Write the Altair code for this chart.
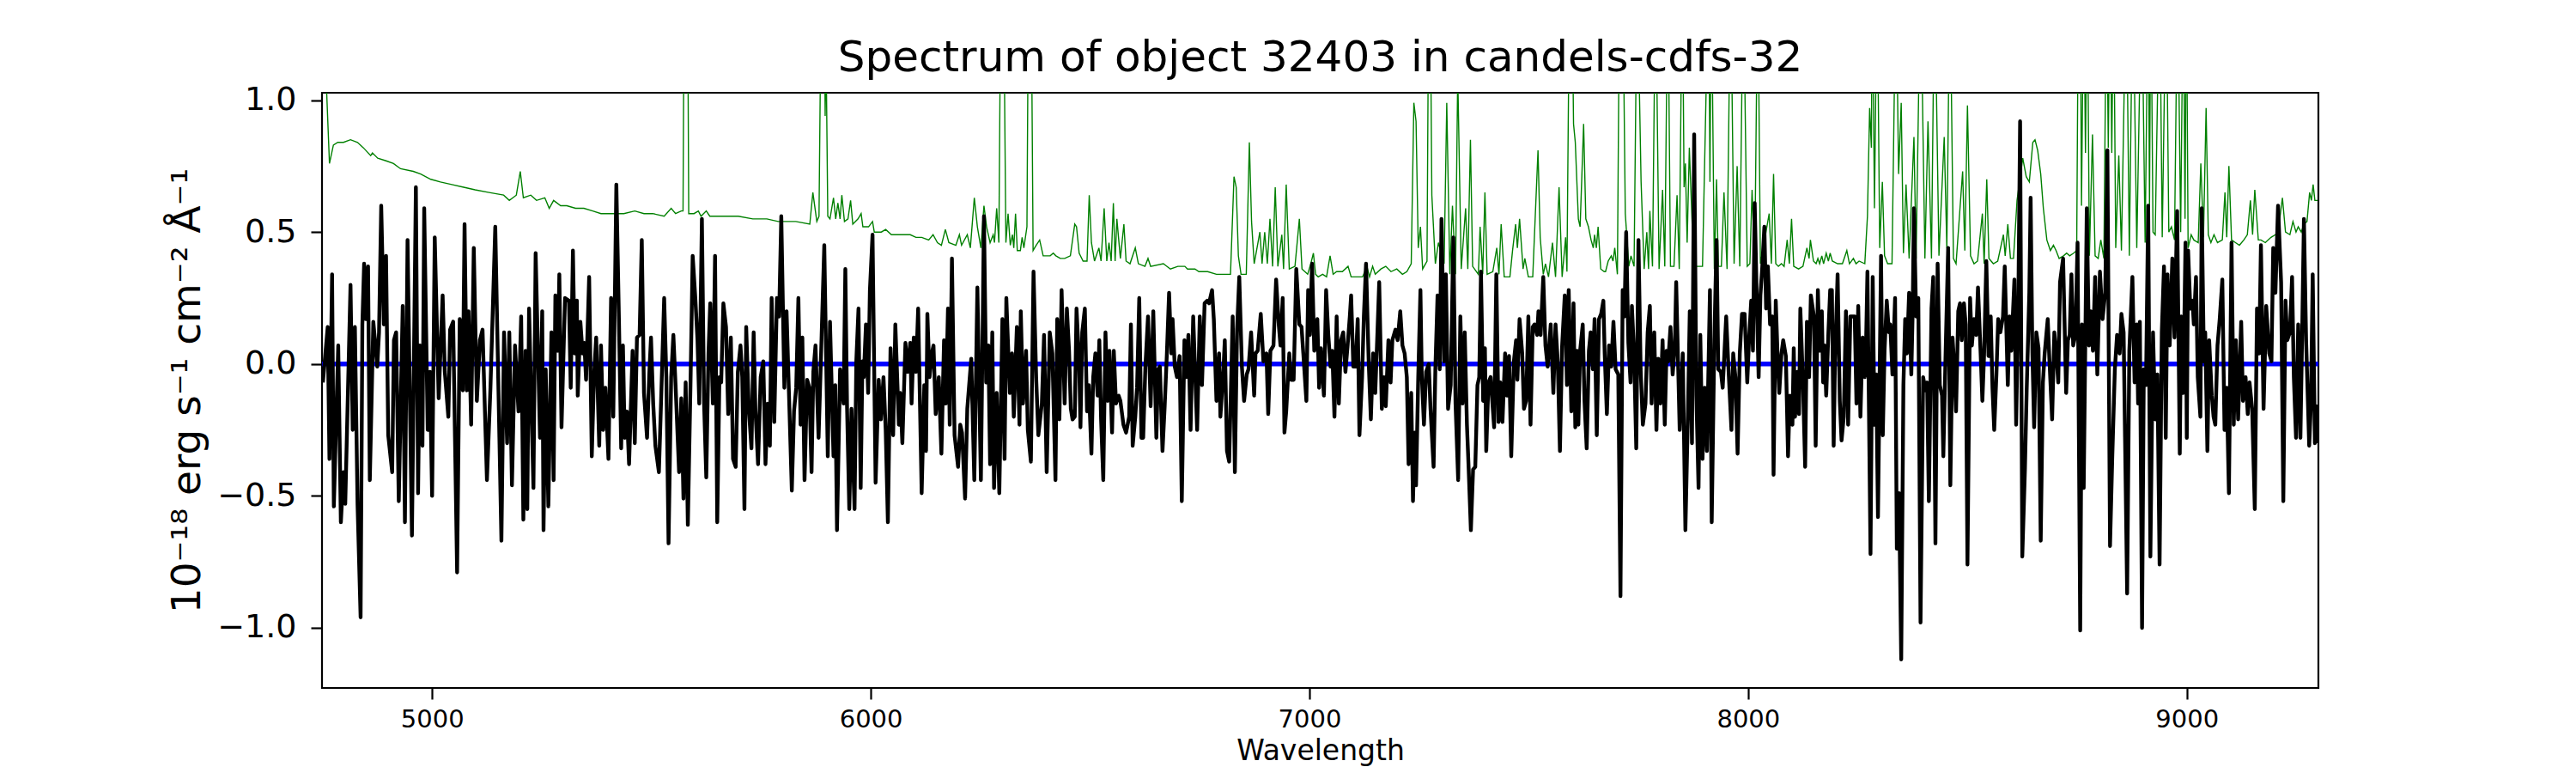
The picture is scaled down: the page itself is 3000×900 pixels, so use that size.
import altair as alt
import pandas as pd

# ---------------- data ----------------
# black: object flux, (wavelength [A], flux [1e-18 erg/s/cm2/A])
black_a = [(4751,-0.07),(4762,0.14),(4766,-0.36),(4772,0.34),(4776,-0.54),(4786,0.07),(4792,-0.60),(4798,-0.41),(4802,-0.53),(4814,0.30),(4819,-0.25),(4824,0.14),(4830,-0.53),(4837,-0.96),(4841,0.15),(4845,0.38),(4849,0.17),(4854,0.37),(4858,-0.44),(4866,0.16),(4875,-0.01),(4879,0.12),(4884,0.60),(4890,0.15),(4895,0.41),(4900,-0.27),(4909,-0.41),(4913,0.09),(4918,0.12),(4924,-0.52),(4933,0.22),(4938,-0.60),(4944,0.47),(4954,-0.65),(4963,0.67),(4968,-0.49),(4972,0.07),(4978,-0.31),(4982,0.59),(4990,-0.25),(4995,-0.03),(5000,-0.50),(5006,0.48),(5015,-0.13),(5024,0.26),(5029,-0.03),(5037,-0.20),(5041,0.13),(5048,0.16),(5057,-0.79),(5063,0.17),(5070,-0.10),(5074,0.53),(5079,-0.10),(5083,0.20),(5089,-0.23),(5095,0.44),(5102,-0.14),(5109,0.09),(5115,0.13),(5125,-0.44),(5133,-0.09),(5144,0.52),(5150,0.01),(5158,-0.67),(5164,0.12),(5171,-0.30),(5176,0.12),(5182,-0.46),(5189,0.07),(5197,-0.18),(5203,0.18),(5208,-0.59),(5213,0.05),(5217,-0.55),(5221,0.21),(5231,-0.47),(5236,0.42),(5246,-0.28),(5251,0.20),(5254,-0.63),(5259,-0.02),(5265,-0.54),(5272,0.12),(5277,-0.44),(5281,0.26),(5287,0.05),(5290,0.34),(5295,-0.24),(5303,0.25)]
black_b = [(5312,0.24),(5316,-0.09),(5321,0.43),(5325,0.04),(5330,0.24),(5332,-0.12),(5338,0.16),(5343,0.04),(5347,0.08),(5351,-0.06),(5358,0.33),(5364,-0.35),(5369,-0.05),(5374,0.10),(5381,-0.31),(5385,0.07),(5390,-0.25),(5395,-0.09),(5402,-0.36),(5408,0.25),(5413,-0.20),(5420,0.68),(5426,0.16),(5431,-0.32),(5435,0.07),(5439,-0.28),(5444,-0.18),(5449,-0.38),(5457,0.05),(5462,-0.30),(5467,0.10),(5473,0.11),(5478,0.47),(5483,-0.11),(5490,-0.28),(5495,-0.04),(5499,0.10),(5504,-0.15),(5509,-0.31),(5517,-0.41),(5522,-0.14),(5529,0.25),(5534,-0.05),(5539,-0.68),(5545,-0.05),(5550,0.11),(5555,-0.08),(5563,-0.41),(5568,-0.13),(5573,-0.51),(5578,-0.07),(5583,-0.61),(5589,-0.08),(5594,0.41),(5600,0.25),(5605,0.09),(5609,-0.15),(5615,0.55),(5620,-0.15),(5625,-0.43),(5630,0.04),(5634,0.23),(5640,-0.15),(5645,0.41),(5650,-0.60),(5655,-0.05),(5659,-0.07),(5664,0.23),(5670,0.14),(5675,-0.19),(5681,0.10),(5686,-0.36),(5692,-0.39),(5697,-0.03),(5703,0.07),(5707,-0.05),(5712,-0.55),(5716,0.14),(5722,-0.17),(5728,-0.32),(5733,0.12),(5737,-0.17),(5743,-0.38),(5749,-0.05),(5755,0.01),(5760,-0.38),(5765,-0.15),(5770,-0.31),(5774,0.25),(5780,-0.22),(5786,0.25),(5791,0.18),(5796,0.56),(5803,-0.09),(5808,0.20),(5814,-0.14),(5820,-0.48),(5825,-0.18),(5830,-0.09),(5835,0.25),(5840,-0.23),(5844,0.10),(5849,-0.44),(5855,-0.06),(5860,-0.09),(5865,-0.41),(5869,-0.03),(5874,0.07)]
black_c = [(5881,-0.28),(5888,0.11),(5894,0.45),(5902,-0.35),(5907,0.16),(5915,-0.35),(5919,-0.08),(5923,-0.63),(5930,-0.02),(5938,-0.15),(5942,0.36),(5946,-0.17),(5951,-0.55),(5956,-0.17),(5963,-0.55),(5967,0.01),(5972,0.21),(5977,-0.47),(5981,0.01),(5984,-0.05),(5989,0.15),(5994,-0.11),(5998,0.28),(6004,0.49),(6011,-0.45),(6018,-0.06),(6023,-0.21),(6029,-0.05),(6034,-0.25),(6039,-0.60),(6045,0.06),(6051,-0.27),(6056,0.15),(6064,-0.23),(6067,-0.11),(6072,-0.30),(6079,0.08),(6084,-0.03),(6090,0.08),(6093,-0.15),(6098,0.10),(6103,-0.03),(6108,0.21),(6116,-0.49),(6122,-0.08),(6126,-0.33),(6129,0.19),(6134,-0.05),(6139,0.04),(6143,0.07),(6148,-0.19),(6155,-0.05),(6161,-0.34),(6167,0.09),(6171,-0.15),(6176,0.21),(6180,-0.23),(6185,0.40),(6191,-0.27),(6199,-0.39),(6204,-0.23),(6208,-0.26),(6215,-0.51),(6220,-0.17),(6229,0.02),(6236,-0.44),(6243,0.29),(6251,-0.44),(6258,0.56),(6263,-0.07),(6268,0.07),(6272,-0.38),(6277,0.12),(6281,-0.47),(6287,-0.11),(6293,-0.49),(6300,0.17),(6305,-0.36),(6309,0.25),(6317,-0.11),(6322,0.04),(6326,-0.20),(6333,0.14),(6339,-0.23),(6342,0.20),(6347,-0.15),(6354,0.05),(6358,-0.25),(6365,-0.37),(6371,0.35),(6377,-0.05),(6382,-0.27),(6390,-0.15),(6395,0.11),(6401,-0.41),(6408,0.12),(6414,0.04),(6421,-0.44),(6425,0.17),(6430,-0.21),(6435,0.28),(6442,-0.15)]
black_d = [(6447,0.21),(6452,0.05),(6456,-0.17),(6460,-0.21),(6465,-0.20),(6469,0.21),(6475,0.01),(6478,-0.24),(6482,0.12),(6488,0.21),(6493,-0.18),(6497,-0.08),(6503,-0.34),(6507,-0.05),(6512,0.04),(6517,-0.12),(6521,0.09),(6525,-0.21),(6530,-0.44),(6535,0.12),(6540,-0.14),(6544,0.05),(6550,-0.26),(6554,0.05),(6559,-0.15),(6565,-0.12),(6569,-0.14),(6576,-0.23),(6582,-0.26),(6589,-0.20),(6593,0.15),(6597,-0.31),(6603,-0.20),(6607,-0.09),(6612,0.25),(6617,-0.28),(6621,-0.28),(6626,-0.01),(6632,0.18),(6638,-0.16),(6644,0.20),(6651,-0.28),(6655,-0.02),(6659,-0.01),(6665,-0.33),(6670,-0.16),(6675,0.04),(6680,0.27),(6685,0.04),(6688,0.17),(6693,-0.01),(6698,-0.05),(6704,0.03),(6709,-0.52),(6715,0.09),(6719,-0.05),(6724,0.11),(6729,-0.25),(6735,0.18),(6744,-0.25),(6750,0.18),(6755,-0.08),(6761,0.23),(6767,0.24),(6771,0.23),(6778,0.28),(6782,0.17),(6788,-0.14),(6794,0.04),(6797,-0.20),(6804,-0.02),(6807,0.09),(6812,-0.33),(6817,-0.37),(6825,0.18),(6830,-0.41),(6835,0.13),(6840,0.33),(6846,-0.01),(6851,-0.14),(6857,-0.04),(6861,-0.02),(6867,0.12),(6874,-0.12),(6877,0.04),(6882,0.05),(6889,0.19),(6895,0.01),(6902,0.04),(6906,-0.19),(6911,0.05),(6918,0.07),(6924,0.32),(6930,0.15),(6934,0.07),(6939,0.25),(6943,-0.26),(6947,-0.18),(6954,0.04),(6958,-0.06),(6964,-0.06),(6970,0.36),(6977,0.15),(6982,0.14),(6986,0.04),(6993,-0.14),(6997,0.28),(7001,0.11),(7006,0.38),(7011,0.05)]
black_e = [(7018,0.17),(7022,-0.09),(7026,0.06),(7033,-0.12),(7038,0.28),(7043,0.11),(7048,-0.01),(7052,0.05),(7057,-0.20),(7062,0.18),(7067,-0.15),(7072,0.09),(7077,0.12),(7082,-0.03),(7087,0.07),(7092,0.18),(7095,0.26),(7100,-0.01),(7105,-0.01),(7110,0.17),(7114,-0.27),(7120,-0.05),(7124,0.18),(7129,0.38),(7135,0.01),(7140,-0.21),(7145,0.04),(7150,-0.11),(7155,0.12),(7159,0.31),(7165,-0.17),(7170,-0.05),(7174,-0.16),(7180,0.09),(7185,-0.07),(7189,0.09),(7196,0.13),(7201,0.09),(7207,0.20),(7212,0.07),(7217,0.04),(7222,-0.05),(7226,-0.38),(7232,-0.11),(7236,-0.52),(7240,-0.26),(7243,-0.46),(7248,-0.05),(7253,0.28),(7256,-0.04),(7261,-0.23),(7266,-0.03),(7272,0.00),(7276,-0.17),(7283,-0.39),(7287,-0.02),(7292,0.26),(7297,-0.02),(7301,0.55),(7307,0.01),(7311,0.34),(7316,-0.17),(7322,-0.08),(7328,0.48),(7333,-0.15),(7339,-0.44),(7344,0.18),(7349,-0.15),(7354,0.12),(7359,-0.23),(7363,-0.40),(7368,-0.63),(7373,-0.40),(7378,-0.39),(7383,-0.08),(7387,-0.05),(7391,0.35),(7396,-0.14),(7400,0.06),(7403,-0.33),(7408,-0.07),(7413,-0.05),(7418,-0.17),(7421,-0.24),(7426,0.34),(7431,-0.22),(7435,-0.07),(7440,-0.22),(7446,0.04),(7450,-0.12),(7455,0.03),(7460,-0.35),(7466,0.01),(7471,0.09),(7474,-0.06),(7479,0.17),(7485,0.04),(7489,-0.17),(7494,-0.14),(7499,0.18),(7504,-0.23),(7509,0.14),(7513,0.15),(7519,0.11),(7522,0.20),(7527,0.11),(7533,0.33),(7538,0.07),(7543,-0.01),(7550,0.15),(7556,-0.11),(7561,0.15),(7566,0.01),(7571,-0.33),(7576,0.07)]
black_f = [(7582,0.26),(7587,-0.08),(7591,0.28),(7597,-0.18),(7602,0.23),(7606,-0.24),(7610,0.05),(7613,-0.23),(7617,0.05),(7623,0.15),(7627,-0.14),(7632,-0.32),(7637,0.05),(7641,0.12),(7646,-0.02),(7650,0.17),(7655,-0.27),(7660,0.17),(7665,0.19),(7670,0.24),(7673,0.04),(7678,-0.19),(7683,0.07),(7688,-0.01),(7693,0.16),(7698,-0.02),(7704,-0.04),(7709,-0.88),(7714,0.28),(7718,0.18),(7722,0.50),(7727,0.08),(7732,-0.07),(7735,0.22),(7740,0.04),(7745,-0.32),(7750,0.47),(7755,-0.02),(7760,-0.23),(7766,-0.15),(7771,0.12),(7776,0.22),(7780,-0.15),(7786,0.12),(7791,-0.25),(7795,0.02),(7800,-0.15),(7805,0.09),(7810,-0.23),(7814,0.05),(7818,0.01),(7823,0.14),(7828,-0.04),(7833,0.07),(7836,0.31),(7844,-0.25),(7851,0.04),(7857,-0.63),(7863,-0.17),(7867,0.20),(7872,-0.30),(7877,0.87),(7882,-0.12),(7887,-0.47),(7891,0.11),(7896,-0.36),(7901,-0.09),(7906,-0.33),(7913,0.28),(7917,-0.60),(7923,0.09),(7928,0.47),(7932,-0.02),(7938,-0.03),(7942,-0.09),(7945,0.01),(7950,0.18),(7955,-0.01),(7962,-0.25),(7966,0.04),(7971,-0.05),(7976,-0.34),(7981,0.04),(7986,0.19),(7992,0.19),(7998,-0.07),(8002,0.09),(8007,0.24),(8011,0.05),(8015,0.61),(8020,0.22),(8024,-0.05),(8028,0.26),(8032,0.36),(8037,0.52),(8041,0.21),(8045,0.37),(8050,0.15),(8055,0.18),(8058,-0.42),(8063,0.24),(8067,0.04),(8071,-0.11),(8076,0.04),(8080,0.09),(8086,0.03),(8091,-0.35),(8095,-0.12),(8101,-0.23),(8104,0.06),(8107,-0.20),(8112,-0.03),(8116,-0.19),(8119,0.21),(8125,-0.07),(8130,-0.39),(8134,0.16),(8139,-0.05),(8143,0.26)]
black_g = [(8150,0.18),(8154,-0.31),(8159,0.28),(8163,0.05),(8168,0.20),(8171,-0.07),(8174,0.07),(8178,-0.12),(8183,0.12),(8187,0.28),(8191,0.28),(8195,-0.31),(8198,0.01),(8204,0.34),(8209,-0.14),(8213,-0.29),(8218,-0.20),(8223,0.20),(8228,-0.23),(8233,0.18),(8238,0.18),(8243,0.18),(8247,-0.15),(8251,0.22),(8256,-0.20),(8261,0.10),(8266,-0.05),(8269,0.09),(8272,0.35),(8279,-0.72),(8284,0.33),(8288,-0.23),(8292,-0.04),(8296,-0.58),(8303,0.41),(8307,-0.27),(8311,0.05),(8316,0.24),(8321,0.12),(8324,0.15),(8329,-0.04),(8335,0.25),(8339,-0.70),(8344,-0.49),(8349,-1.12),(8354,-0.08),(8358,0.17),(8362,0.04),(8367,0.27),(8372,-0.04),(8375,0.19),(8378,0.59),(8383,0.18),(8388,0.25),(8393,-0.98),(8399,-0.05),(8404,-0.10),(8408,-0.07),(8412,-0.52),(8418,0.21),(8422,0.33),(8427,-0.68),(8432,0.38),(8437,-0.08),(8442,-0.12),(8445,-0.35),(8450,0.03),(8456,0.44),(8461,-0.46),(8466,0.10),(8470,-0.01),(8474,-0.18),(8479,0.20),(8483,0.23),(8487,0.09),(8492,0.23),(8496,0.15),(8500,-0.76),(8506,0.25),(8510,0.07),(8515,0.17),(8520,0.11),(8524,0.29),(8530,0.04),(8534,-0.14),(8538,0.04),(8543,0.39),(8548,0.03),(8553,0.18),(8557,-0.09),(8561,-0.25),(8566,-0.04),(8570,0.17),(8575,0.12),(8581,0.18),(8585,0.37),(8592,-0.08),(8596,0.18),(8600,0.05),(8607,0.32),(8611,-0.23),(8616,0.24),(8620,0.92),(8625,-0.73),(8631,-0.40),(8635,-0.10),(8641,0.27),(8644,0.63),(8648,0.04),(8652,-0.24),(8657,0.12),(8662,0.06),(8667,-0.67),(8672,-0.07),(8676,0.04),(8683,0.17),(8687,0.01),(8693,-0.21),(8698,0.12),(8702,0.05),(8707,-0.07),(8711,0.31)]
black_h = [(8718,0.40),(8725,-0.11),(8729,0.09),(8733,0.11),(8737,0.34),(8741,0.07),(8746,0.11),(8751,0.46),(8757,-1.01),(8761,0.15),(8765,-0.47),(8772,0.59),(8777,0.07),(8781,0.20),(8786,0.05),(8791,0.33),(8796,-0.04),(8802,0.35),(8808,0.17),(8814,0.27),(8819,0.81),(8825,-0.69),(8830,-0.36),(8836,-0.02),(8841,0.11),(8847,0.04),(8851,0.19),(8856,0.12),(8864,-0.87),(8869,0.05),(8876,0.33),(8881,-0.07),(8886,0.15),(8889,-0.15),(8893,0.16),(8898,-1.00),(8902,-0.02),(8907,-0.08),(8912,0.60),(8917,-0.73),(8923,0.12),(8928,-0.21),(8933,-0.04),(8938,-0.76),(8943,0.12),(8948,0.37),(8952,-0.28),(8956,0.34),(8961,0.07),(8967,0.40),(8972,0.10),(8978,0.58),(8984,-0.34),(8987,0.18),(8992,-0.11),(8997,0.46),(9000,-0.28),(9003,0.43),(9008,0.21),(9013,0.24),(9016,0.15),(9021,0.33),(9025,-0.05),(9031,-0.20),(9034,0.59),(9039,0.01),(9042,0.12),(9047,-0.33),(9051,0.09),(9057,-0.12),(9061,-0.20),(9065,-0.23),(9070,0.07),(9075,0.17),(9081,0.32),(9086,-0.25),(9091,-0.09),(9096,-0.49),(9102,0.46),(9107,-0.23),(9112,0.09),(9117,-0.21),(9124,0.16),(9128,-0.14),(9134,-0.05),(9139,-0.19),(9143,-0.07),(9149,-0.17),(9155,-0.55),(9160,0.21),(9165,0.04),(9169,0.45),(9175,-0.17),(9181,0.22),(9188,0.04),(9193,0.01),(9197,0.44),(9202,0.27),(9208,0.60),(9215,0.31),(9220,-0.52),(9225,0.24),(9229,0.09),(9235,0.12),(9240,0.33),(9244,-0.05),(9249,-0.28),(9254,0.15),(9259,-0.28),(9263,0.12),(9267,0.55),(9272,0.09),(9279,-0.31),(9283,-0.15),(9287,0.34),(9292,-0.30),(9295,-0.16),(9298,-0.30)]

# green: noise / sky spectrum (values above the top of the frame are clipped)
green_a = [(4751,1.6),(4758,1.1),(4766,0.76),(4775,0.83),(4785,0.84),(4798,0.84),(4814,0.85),(4830,0.84),(4843,0.82),(4860,0.79),(4864,0.80),(4876,0.78),(4895,0.77),(4912,0.76),(4928,0.74),(4957,0.73),(4974,0.72),(4997,0.70),(5019,0.69),(5045,0.68),(5072,0.67),(5098,0.66),(5130,0.65),(5163,0.64),(5176,0.62),(5192,0.64),(5201,0.73),(5208,0.63),(5225,0.64),(5238,0.62),(5257,0.63),(5267,0.59),(5277,0.62),(5293,0.60)]
green_b = [(5307,0.60),(5327,0.59),(5346,0.59),(5366,0.58),(5385,0.57),(5411,0.57),(5437,0.57),(5462,0.58),(5483,0.57),(5503,0.57),(5529,0.56),(5545,0.59),(5555,0.57),(5568,0.58),(5572,0.58),(5575,1.6),(5582,1.6),(5585,0.57),(5597,0.57),(5607,0.58),(5613,0.56),(5625,0.58),(5633,0.56),(5659,0.56),(5698,0.56),(5731,0.55),(5763,0.55),(5789,0.54),(5829,0.54),(5861,0.53),(5868,0.65),(5877,0.54)]
green_c = [(5882,0.56),(5888,1.6),(5893,1.6),(5896,0.94),(5898,1.2),(5902,0.56),(5907,0.55),(5915,0.63),(5920,0.55),(5925,0.61),(5930,0.55),(5934,0.64),(5940,0.54),(5948,0.55),(5954,0.62),(5959,0.53),(5971,0.55),(5978,0.57),(5982,0.52),(5995,0.52),(6004,0.54),(6008,0.50),(6024,0.50),(6034,0.51),(6047,0.49),(6067,0.49),(6090,0.49),(6103,0.48),(6116,0.48),(6132,0.47),(6142,0.49),(6152,0.46),(6161,0.45),(6170,0.51),(6178,0.46),(6194,0.45),(6202,0.49),(6207,0.45),(6220,0.49),(6227,0.44),(6236,0.63),(6243,0.52),(6251,0.44),(6258,0.60),(6264,0.52),(6272,0.46),(6279,0.49),(6282,0.46),(6287,0.59),(6292,0.46),(6297,1.6),(6302,1.6),(6308,0.46),(6313,0.57),(6318,0.45),(6323,0.49),(6326,0.44),(6330,0.57),(6334,0.43),(6341,0.43),(6345,0.48),(6349,0.44),(6356,0.52),(6360,1.6),(6365,1.6),(6370,0.43),(6377,0.45),(6385,0.47),(6393,0.41),(6409,0.41),(6416,0.42),(6422,0.41),(6432,0.40),(6442,0.40)]
green_d = [(6455,0.41),(6465,0.53),(6469,0.52),(6475,0.42),(6484,0.39),(6493,0.39),(6498,0.64),(6503,0.46),(6510,0.39),(6520,0.44),(6525,0.39),(6532,0.59),(6538,0.39),(6543,0.46),(6548,0.39),(6553,0.61),(6557,0.39),(6561,0.55),(6569,0.40),(6577,0.53),(6582,0.39),(6591,0.38),(6603,0.44),(6610,0.38),(6625,0.37),(6632,0.40),(6638,0.37),(6667,0.38),(6683,0.36),(6700,0.37),(6716,0.37),(6722,0.36),(6739,0.36),(6748,0.35),(6768,0.35),(6788,0.34),(6820,0.34),(6828,0.71),(6833,0.67),(6838,0.41),(6844,0.34),(6856,0.34),(6863,0.84),(6868,0.54),(6874,0.38),(6887,0.50),(6892,0.38),(6898,0.50),(6904,0.38),(6910,0.55),(6916,0.37),(6922,0.67),(6928,0.37),(6937,0.49),(6941,0.36),(6947,0.68),(6954,0.36),(6967,0.37),(6977,0.55),(6983,0.36),(6996,0.34),(7003,0.38),(7009,0.42),(7014,0.34)]
green_e = [(7020,0.33),(7030,0.34),(7039,0.33),(7047,0.41),(7054,0.34),(7062,0.35),(7075,0.35),(7088,0.37),(7095,0.33),(7108,0.33),(7121,0.33),(7131,0.37),(7137,0.33),(7144,0.37),(7150,0.34),(7163,0.36),(7174,0.37),(7186,0.35),(7199,0.36),(7212,0.34),(7222,0.35),(7232,0.38),(7238,0.99),(7243,0.92),(7248,0.44),(7253,0.52),(7258,0.36),(7268,0.39),(7272,1.5),(7275,1.5),(7279,0.64),(7287,0.38),(7294,0.46),(7307,0.38),(7313,0.99),(7320,0.34),(7326,0.60),(7333,0.34),(7338,1.1),(7346,0.36),(7356,0.59),(7361,0.36),(7367,0.85),(7372,0.37),(7385,0.34),(7389,0.52),(7395,0.34),(7400,0.65),(7405,0.34),(7418,0.35),(7427,0.44),(7432,0.34),(7437,0.53),(7444,0.33),(7457,0.33),(7463,0.43),(7470,0.53),(7474,0.44),(7479,0.55),(7487,0.36),(7491,0.40),(7499,0.33),(7509,0.33),(7521,0.81),(7526,0.48),(7533,0.34),(7538,0.38),(7545,0.33),(7554,0.46),(7561,0.33),(7569,0.67),(7576,0.33)]
green_f = [(7584,0.48),(7587,0.35),(7593,1.5),(7598,1.5),(7602,0.91),(7606,0.84),(7613,0.55),(7617,0.52),(7625,0.91),(7630,0.55),(7636,0.52),(7642,0.47),(7647,0.44),(7650,0.49),(7654,0.44),(7658,0.52),(7664,0.36),(7672,0.35),(7675,0.35),(7681,0.39),(7688,0.41),(7692,0.39),(7696,0.44),(7702,0.34),(7707,1.5),(7714,1.5),(7720,0.57),(7728,0.37),(7733,0.41),(7740,0.37),(7747,1.5),(7756,0.69),(7763,0.36),(7769,0.50),(7773,0.36),(7776,0.58),(7782,0.37),(7789,1.5),(7797,0.36),(7805,0.66),(7810,0.37),(7817,1.5),(7823,0.37),(7831,0.37),(7838,0.64),(7843,0.36),(7850,1.5),(7854,0.67),(7857,0.76),(7861,0.46),(7866,0.82),(7876,0.37),(7887,0.37),(7896,0.37),(7910,1.5),(7913,0.69),(7916,1.5),(7923,0.36),(7928,0.70),(7932,0.37),(7939,0.37),(7945,0.65),(7952,0.36),(7960,1.5),(7968,0.38),(7975,0.75),(7981,0.37),(7989,1.5),(7998,0.37),(8004,0.38),(8009,0.66),(8015,0.37),(8022,1.5),(8028,0.38),(8048,0.57),(8053,0.38),(8058,0.72),(8063,0.38),(8069,0.37),(8076,0.38),(8082,0.37),(8089,0.47),(8094,0.38),(8099,0.55),(8104,0.37),(8115,0.36),(8125,0.37),(8134,0.44),(8139,0.40),(8142,0.47),(8149,0.39)]
green_g = [(8155,0.38),(8159,0.40),(8163,0.38),(8168,0.41),(8172,0.38),(8178,0.42),(8183,0.39),(8187,0.42),(8192,0.39),(8204,0.38),(8215,0.38),(8225,0.43),(8231,0.38),(8240,0.40),(8246,0.38),(8253,0.39),(8266,0.38),(8272,0.56),(8277,0.97),(8281,0.82),(8283,1.5),(8288,0.59),(8294,1.5),(8300,0.44),(8306,0.69),(8311,0.41),(8318,0.38),(8328,0.38),(8337,1.5),(8343,0.72),(8349,0.99),(8354,0.42),(8360,0.68),(8367,0.40),(8378,0.86),(8383,0.40),(8393,1.5),(8403,0.40),(8410,0.92),(8418,0.40),(8425,1.5),(8435,0.41),(8447,0.86),(8453,0.44),(8460,1.5),(8468,0.40),(8474,0.38),(8489,0.73),(8494,0.43),(8500,0.98),(8507,0.41),(8515,0.38),(8523,0.39),(8534,0.57),(8538,0.38),(8544,0.70),(8549,0.40),(8559,0.38),(8569,0.39),(8582,0.49),(8586,0.41),(8592,0.53),(8598,0.40),(8605,0.40),(8613,0.62),(8626,0.78),(8634,0.71),(8641,0.69),(8649,0.84),(8654,0.85),(8660,0.81),(8667,0.72),(8673,0.59),(8681,0.47),(8689,0.43),(8696,0.45),(8702,0.43),(8709,0.40),(8719,0.41)]
green_h = [(8726,0.42),(8733,0.41),(8742,0.42),(8749,0.43),(8753,1.5),(8757,1.5),(8760,0.60),(8765,1.5),(8769,0.80),(8773,1.5),(8778,0.41),(8785,0.87),(8791,0.41),(8798,0.40),(8804,0.47),(8811,0.40),(8817,1.5),(8821,0.82),(8825,1.5),(8829,0.80),(8833,1.5),(8838,0.44),(8845,0.79),(8851,0.43),(8862,1.5),(8869,0.41),(8877,1.5),(8886,0.44),(8897,1.5),(8905,0.46),(8912,1.5),(8915,0.60),(8918,1.5),(8923,0.50),(8928,0.49),(8938,1.5),(8944,0.48),(8953,1.5),(8959,0.50),(8965,0.52),(8972,0.47),(8979,1.5),(8986,0.50),(8992,1.5),(8996,0.55),(8999,1.5),(9003,0.44),(9010,0.49),(9016,0.47),(9026,0.46),(9032,0.76),(9038,0.48),(9044,0.97),(9049,0.49),(9055,0.46),(9062,0.49),(9070,0.46),(9081,0.47),(9087,0.65),(9091,0.48),(9096,0.75),(9102,0.47),(9111,0.46),(9120,0.45),(9130,0.47),(9138,0.49),(9145,0.62),(9150,0.49),(9155,0.66),(9163,0.47),(9169,0.47),(9179,0.46),(9192,0.48),(9202,0.49),(9208,0.50),(9218,0.63),(9225,0.50),(9235,0.49),(9242,0.54),(9249,0.50),(9254,0.52),(9261,0.50),(9267,0.53),(9274,0.54),(9280,0.65),(9284,0.62),(9288,0.68),(9292,0.62),(9298,0.62)]

# blue: zero level
blue_wave = [4749, 9300]
blue_flux = [0.0, 0.0]

x_domain = [4749, 9300]
y_domain = [-1.228, 1.028]
x_ticks = [5000, 6000, 7000, 8000, 9000]
y_ticks = [-1.0, -0.5, 0.0, 0.5, 1.0]

title_text = "Spectrum of object 32403 in candels-cdfs-32"
x_title = "Wavelength"
y_title = "10\u207b\u00b9\u2078 erg s\u207b\u00b9 cm\u207b\u00b2 \u00c5\u207b\u00b9"

# ---------------- build table ----------------
rows = []
for seg in [green_a, green_b, green_c, green_d, green_e, green_f, green_g, green_h]:
    rows += [{"wave": w, "flux": f, "series": "green"} for w, f in seg]
rows += [{"wave": w, "flux": f, "series": "blue"} for w, f in zip(blue_wave, blue_flux)]
for seg in [black_a, black_b, black_c, black_d, black_e, black_f, black_g, black_h]:
    rows += [{"wave": w, "flux": f, "series": "black"} for w, f in seg]
df = pd.DataFrame(rows)

FONT = "DejaVu Sans"

x_enc = alt.X(
    "wave:Q",
    scale=alt.Scale(domain=x_domain, nice=False, zero=False),
    axis=alt.Axis(values=x_ticks, format="d", title=x_title, labelFontSize=29,
                  labelPadding=9, tickSize=13, titleFontSize=33,
                  titleFontWeight="normal", titleBaseline="alphabetic",
                  titleY=83, titleX=1162.5, grid=False, domain=False,
                  labelFlush=False),
)
y_enc = alt.Y(
    "flux:Q",
    scale=alt.Scale(domain=y_domain, nice=False, zero=False),
    axis=alt.Axis(values=y_ticks, format=".1f", title=y_title, labelFontSize=38,
                  labelPadding=17, tickSize=13, titleFontSize=47,
                  titleFontWeight="normal", titleBaseline="alphabetic",
                  titleAngle=270, titleX=-143, titleY=346.5, grid=False,
                  domain=False),
)

base = alt.Chart(df).encode(x=x_enc, y=y_enc)

green = base.transform_filter(alt.datum.series == "green").mark_line(
    color="#008000", strokeWidth=1.4, clip=True)
blue = base.transform_filter(alt.datum.series == "blue").mark_line(
    color="#0000ff", strokeWidth=5.5, clip=True)
black = base.transform_filter(alt.datum.series == "black").mark_line(
    color="black", strokeWidth=4.4, clip=True, strokeJoin="round")

chart = alt.layer(green, blue, black).properties(
    width=2325,
    height=693,
    autosize=alt.AutoSizeParams(type="none"),
    padding={"left": 367, "top": 100, "right": 292, "bottom": 91},
    background="white",
    title=alt.Title(text=title_text, fontSize=50, font=FONT, fontWeight="normal",
                    color="black", anchor="middle", baseline="alphabetic",
                    offset=15, dy=50),
).configure_view(
    stroke="black", strokeWidth=2.2
).configure_axis(
    labelFont=FONT, titleFont=FONT, labelColor="black", titleColor="black",
    tickColor="black", tickWidth=2.2
)

chart.save("out.html", embed_options={"renderer": "svg", "actions": False})
